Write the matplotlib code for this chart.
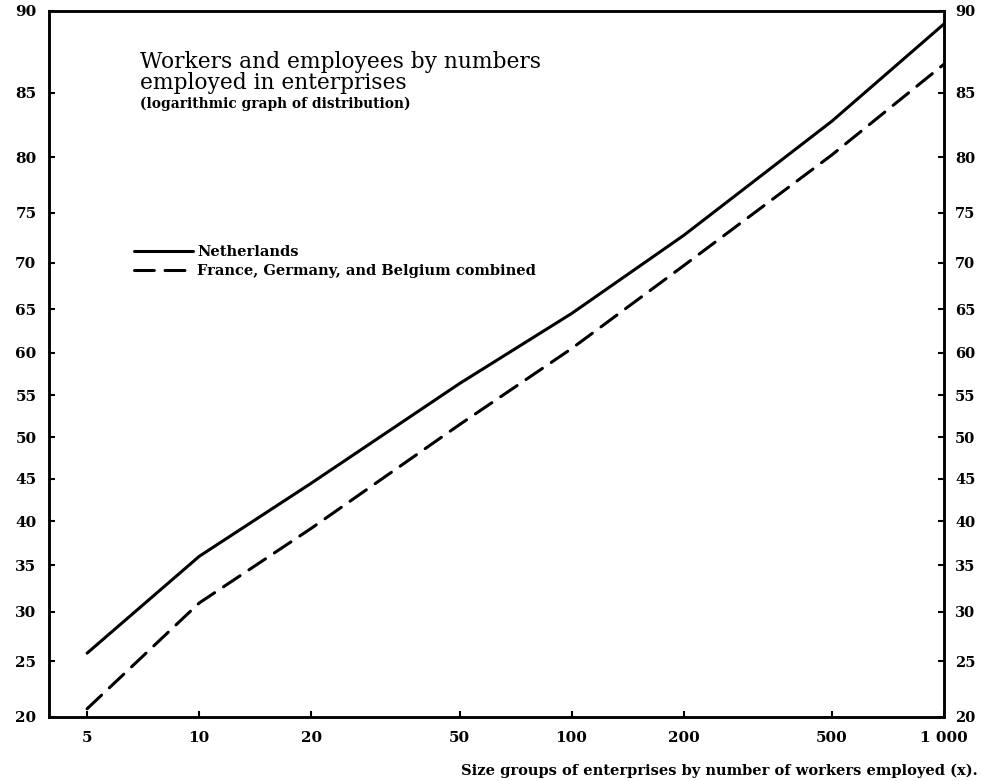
from statistics import NormalDist

import matplotlib
matplotlib.use("Agg")
import matplotlib.pyplot as plt
import numpy as np
from matplotlib.ticker import NullLocator

# size groups of enterprises (number of workers employed)
size_groups = [5, 10, 20, 50, 100, 200, 500, 1000]
# cumulative share of workers and employees (%), probability scale
netherlands = [25.8, 36.0, 44.5, 56.4, 64.5, 72.8, 82.9, 89.3]
fgb_combined = [20.7, 30.9, 39.2, 51.5, 60.5, 69.7, 80.2, 86.9]

y_ticks = [20, 25, 30, 35, 40, 45, 50, 55, 60, 65, 70, 75, 80, 85, 90]
x_ticks = [5, 10, 20, 50, 100, 200, 500, 1000]
x_ticklabels = ["5", "10", "20", "50", "100", "200", "500", "1 000"]

plt.rcParams["font.family"] = "DejaVu Serif"
plt.rcParams["font.weight"] = "bold"

_nd = NormalDist()
_ppf = np.vectorize(lambda p: _nd.inv_cdf(min(max(p / 100.0, 1e-9), 1 - 1e-9)),
                    otypes=[float])
_cdf = np.vectorize(lambda z: _nd.cdf(z) * 100.0, otypes=[float])


def probit(p):
    return _ppf(np.asarray(p, dtype=float))


def probit_inv(z):
    return _cdf(np.asarray(z, dtype=float))


def setup_y(a):
    a.set_yscale("function", functions=(probit, probit_inv))
    a.set_ylim(20, 90)
    a.set_yticks(y_ticks, [str(v) for v in y_ticks])
    a.yaxis.set_minor_locator(NullLocator())


W, H = 981, 781
fig = plt.figure(figsize=(W / 100, H / 100), dpi=100)
ax = fig.add_axes([49 / W, 1 - 717 / H, (944 - 49) / W, (717 - 11) / H])

ax.plot(size_groups, netherlands, color="black", lw=2.2,
        solid_capstyle="round", label="Netherlands")
ax.plot(size_groups, fgb_combined, color="black", lw=2.2, dashes=(6.5, 3.5),
        dash_capstyle="round", label="France, Germany, and Belgium combined")

ax.set_xscale("log")
ax.set_xlim(3.95, 1000)
setup_y(ax)
ax.set_xticks(x_ticks, x_ticklabels)
ax.xaxis.set_minor_locator(NullLocator())

ax.tick_params(axis="both", direction="in", length=4.5, width=1.5, labelsize=11)
ax.tick_params(axis="y", pad=9)
ax.tick_params(axis="x", pad=10)

# right-hand scale repeats the left one
axr = ax.twinx()
setup_y(axr)
axr.tick_params(axis="y", direction="in", length=4.5, width=1.5,
                labelsize=10.5, pad=8)

for a in (ax, axr):
    for s in a.spines.values():
        s.set_linewidth(1.8)

# title block
fig.text(140 / W, 1 - 62 / H, "Workers and employees by numbers",
         size=15.7, weight="normal", va="center", ha="left")
fig.text(140 / W, 1 - 83 / H, "employed in enterprises",
         size=15.7, weight="normal", va="center", ha="left")
fig.text(140 / W, 1 - 104 / H, "(logarithmic graph of distribution)",
         size=9.9, va="center", ha="left")

ax.legend(loc="upper left", bbox_to_anchor=(127 / W, 1 - 238 / H),
          bbox_transform=fig.transFigure, frameon=False, borderpad=0,
          handlelength=4.0, handletextpad=0.3, labelspacing=0.35,
          prop=dict(weight="bold", size=10.5))

fig.text(978 / W, 1 - 771 / H,
         "Size groups of enterprises by number of workers employed (x).",
         size=10.5, ha="right", va="center")

fig.savefig("out.png", dpi=100)
